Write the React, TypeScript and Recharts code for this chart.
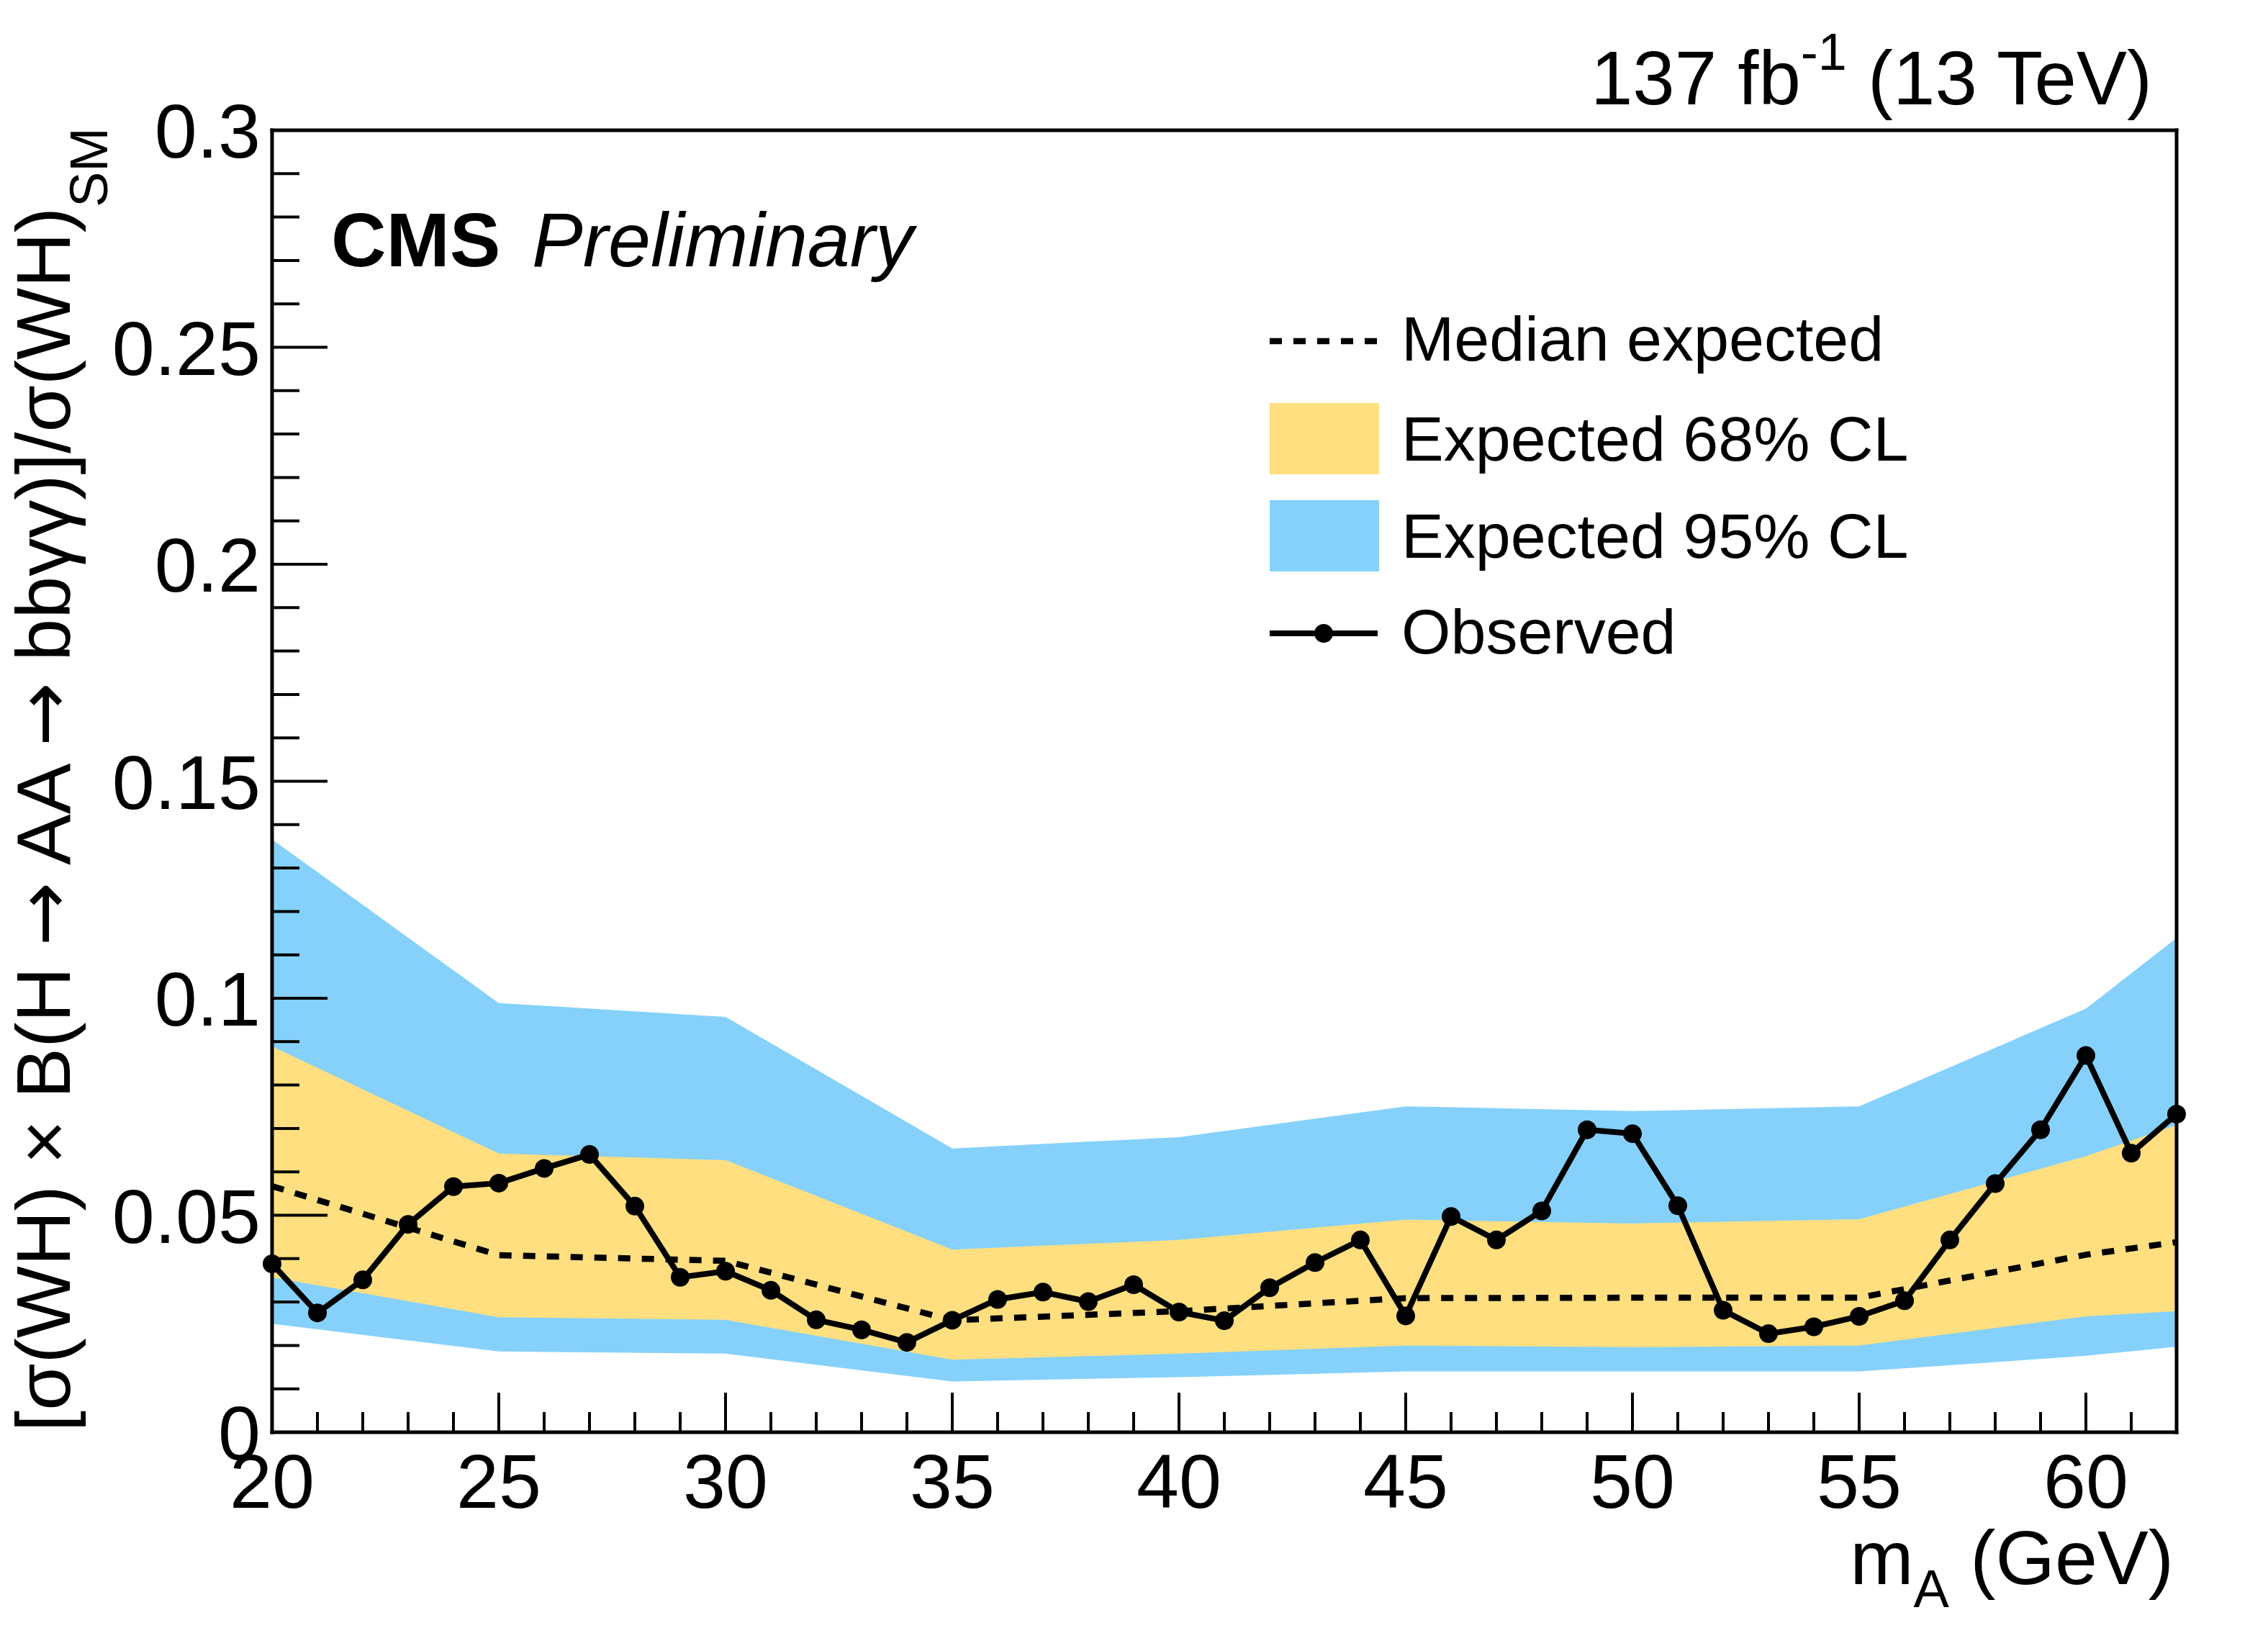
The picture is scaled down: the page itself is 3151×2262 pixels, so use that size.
import React from "react";
import { Area, ComposedChart, Line, XAxis, YAxis } from "recharts";

// m_A points with a fitted observed limit
const obsMass = [
  20, 21, 22, 23, 24, 25, 26, 27, 28, 29, 30, 31, 32, 33, 34, 35, 36, 37, 38, 39, 40,
  41, 42, 43, 44, 45, 46, 47, 48, 49, 50, 51, 52, 53, 54, 55, 56, 57, 58, 59, 60, 61, 62,
];
const observed = [
  0.0388, 0.0275, 0.0351, 0.0479, 0.0566, 0.0574, 0.0608, 0.064, 0.0521, 0.0357, 0.0371,
  0.0327, 0.0259, 0.0236, 0.0207, 0.0258, 0.0306, 0.0323, 0.0301, 0.034, 0.0277, 0.0257,
  0.0333, 0.0391, 0.0443, 0.0268, 0.0497, 0.0443, 0.051, 0.0697, 0.0688, 0.0522, 0.0281,
  0.0227, 0.0243, 0.0267, 0.0303, 0.0443, 0.0573, 0.0697, 0.0868, 0.0643, 0.0733,
];

// expected limits are only evaluated at these masses
const expMass = [20, 25, 30, 35, 40, 45, 50, 55, 60, 62];
const median = [0.0567, 0.0408, 0.0395, 0.0258, 0.0279, 0.0309, 0.031, 0.031, 0.0409, 0.0438];
const lo68 = [0.0357, 0.0265, 0.0259, 0.0167, 0.0181, 0.02, 0.0196, 0.02, 0.0267, 0.0279];
const hi68 = [0.0889, 0.0642, 0.0627, 0.0421, 0.0443, 0.049, 0.0481, 0.0491, 0.0636, 0.0708];
const lo95 = [0.025, 0.0186, 0.0181, 0.0117, 0.0127, 0.014, 0.014, 0.014, 0.0176, 0.0197];
const hi95 = [0.1366, 0.0989, 0.0957, 0.0654, 0.068, 0.0751, 0.074, 0.0751, 0.0976, 0.1139];

const xMajor = [20, 25, 30, 35, 40, 45, 50, 55, 60];
const yMajor = [0, 0.05, 0.1, 0.15, 0.2, 0.25, 0.3];
const xTicks = obsMass;
const yTicks = Array.from({ length: 31 }, (_, i) => Number((i / 100).toFixed(2)));

const YELLOW = "#FFDF7F";
const BLUE = "#85D1FB";
const FONT = "'Liberation Sans', Arial, Helvetica, sans-serif";
const ARROW_FONT = "'DejaVu Sans', sans-serif";

const obsData = obsMass.map((m, i) => ({ m, obs: observed[i] }));
const expData = expMass.map((m, i) => ({
  m,
  median: median[i],
  band68: [lo68[i], hi68[i]],
  band95: [lo95[i], hi95[i]],
}));

const isXMajor = (v: number) => xMajor.includes(v);
const isYMajor = (v: number) => yMajor.some((t) => Math.abs(t - v) < 1e-6);

const X_MAJOR = 55;
const X_MINOR = 28;
const Y_MAJOR = 77;
const Y_MINOR = 38;
const TICK_W = 4;
const DASH = "17 16";

function BottomTick({ x, y, payload }: any) {
  const major = isXMajor(payload.value);
  return (
    <g>
      <line x1={x} x2={x} y1={y} y2={y - (major ? X_MAJOR : X_MINOR)} stroke="#000" strokeWidth={TICK_W} />
      {major && (
        <text x={x} y={y + 105} textAnchor="middle" fontSize={106} fontFamily={FONT} fill="#000">
          {payload.value}
        </text>
      )}
    </g>
  );
}

function TopTick({ x, y, payload }: any) {
  const major = isXMajor(payload.value);
  return <line x1={x} x2={x} y1={y} y2={y + (major ? X_MAJOR : X_MINOR)} stroke="#000" strokeWidth={TICK_W} />;
}

function LeftTick({ x, y, payload }: any) {
  const major = isYMajor(payload.value);
  return (
    <g>
      <line x1={x} x2={x + (major ? Y_MAJOR : Y_MINOR)} y1={y} y2={y} stroke="#000" strokeWidth={TICK_W} />
      {major && (
        <text x={x - 16} y={y + 38} textAnchor="end" fontSize={106} fontFamily={FONT} fill="#000">
          {String(payload.value)}
        </text>
      )}
    </g>
  );
}

function RightTick({ x, y, payload }: any) {
  const major = isYMajor(payload.value);
  return <line x1={x} x2={x - (major ? Y_MAJOR : Y_MINOR)} y1={y} y2={y} stroke="#000" strokeWidth={TICK_W} />;
}

const frame = { stroke: "#000", strokeWidth: 5, strokeLinecap: "square" as const };

export default function App() {
  return (
    <div style={{ position: "absolute", left: 0, top: 0, width: 3151, height: 2262, background: "#fff" }}>
      <ComposedChart width={3151} height={2262} margin={{ top: 180, right: 126, bottom: 271, left: 377 }}>
        <XAxis
          xAxisId="bottom"
          dataKey="m"
          type="number"
          domain={[20, 62]}
          ticks={xTicks}
          interval={0}
          height={1}
          tickLine={false}
          tickSize={0}
          tickMargin={0}
          axisLine={frame}
          tick={<BottomTick />}
        />
        <XAxis
          xAxisId="top"
          orientation="top"
          dataKey="m"
          type="number"
          domain={[20, 62]}
          ticks={xTicks}
          interval={0}
          height={1}
          tickLine={false}
          tickSize={0}
          tickMargin={0}
          axisLine={frame}
          tick={<TopTick />}
        />
        <YAxis
          yAxisId="left"
          type="number"
          domain={[0, 0.3]}
          ticks={yTicks}
          interval={0}
          width={1}
          tickLine={false}
          tickSize={0}
          tickMargin={0}
          axisLine={frame}
          tick={<LeftTick />}
        />
        <YAxis
          yAxisId="right"
          orientation="right"
          type="number"
          domain={[0, 0.3]}
          ticks={yTicks}
          interval={0}
          width={1}
          tickLine={false}
          tickSize={0}
          tickMargin={0}
          axisLine={frame}
          tick={<RightTick />}
        />
        <Area
          xAxisId="bottom"
          yAxisId="left"
          data={expData}
          dataKey="band95"
          type="linear"
          stroke="none"
          fill={BLUE}
          fillOpacity={1}
          isAnimationActive={false}
        />
        <Area
          xAxisId="bottom"
          yAxisId="left"
          data={expData}
          dataKey="band68"
          type="linear"
          stroke="none"
          fill={YELLOW}
          fillOpacity={1}
          isAnimationActive={false}
        />
        <Line
          xAxisId="bottom"
          yAxisId="left"
          data={expData}
          dataKey="median"
          type="linear"
          stroke="#000"
          strokeWidth={8.5}
          strokeDasharray={DASH}
          dot={false}
          activeDot={false}
          isAnimationActive={false}
        />
        <Line
          xAxisId="bottom"
          yAxisId="left"
          data={obsData}
          dataKey="obs"
          type="linear"
          stroke="#000"
          strokeWidth={8}
          dot={{ r: 13, fill: "#000", stroke: "none" }}
          activeDot={false}
          isAnimationActive={false}
        />
      </ComposedChart>

      <svg
        width={3151}
        height={2262}
        style={{ position: "absolute", left: 0, top: 0, pointerEvents: "none" }}
        fontFamily={FONT}
        fill="#000"
      >
        <text x={2990} y={145} textAnchor="end" fontSize={105}>
          137 fb
          <tspan fontSize={72} dy={-48}>
            -1
          </tspan>
          <tspan dy={48}>{" (13 TeV)"}</tspan>
        </text>

        <text x={460} y={370} fontSize={106} fontWeight="bold">
          CMS
        </text>
        <text x={739} y={370} fontSize={106} fontStyle="italic">
          Preliminary
        </text>

        <text x={3020} y={2201} textAnchor="end" fontSize={106}>
          m
          <tspan fontSize={74} dy={32}>
            A
          </tspan>
          <tspan dy={-32}>{" (GeV)"}</tspan>
        </text>

        <text transform="translate(97,177) rotate(-90)" textAnchor="end" fontSize={106}>
          {"[σ(WH) × B(H "}
          <tspan fontFamily={ARROW_FONT}>→</tspan>
          {" AA "}
          <tspan fontFamily={ARROW_FONT}>→</tspan>
          {" bbγγ)]/σ(WH)"}
          <tspan fontSize={74} dy={52}>
            SM
          </tspan>
        </text>

        {/* legend */}
        <line x1={1764} x2={1914} y1={474} y2={474} stroke="#000" strokeWidth={8.5} strokeDasharray={DASH} />
        <text x={1947} y={501} fontSize={88}>
          Median expected
        </text>
        <rect x={1764} y={560} width={152} height={99} fill={YELLOW} />
        <text x={1947} y={640} fontSize={88}>
          Expected 68% CL
        </text>
        <rect x={1764} y={695} width={152} height={99} fill={BLUE} />
        <text x={1947} y={775} fontSize={88}>
          Expected 95% CL
        </text>
        <line x1={1764} x2={1914} y1={880} y2={880} stroke="#000" strokeWidth={8} />
        <circle cx={1839} cy={880} r={13} fill="#000" />
        <text x={1947} y={908} fontSize={88}>
          Observed
        </text>
      </svg>
    </div>
  );
}
